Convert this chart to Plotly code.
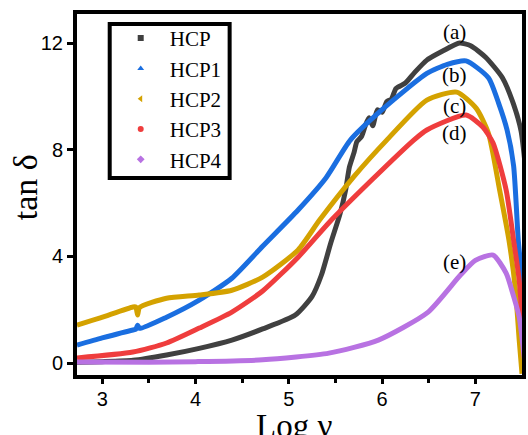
import plotly.graph_objects as go

# log10 of frequency (x) and tan delta (y) for each sample
hcp_x = [2.73, 3.0, 3.33, 3.69, 4.04, 4.39, 4.72, 5.07, 5.25, 5.35, 5.45, 5.55, 5.61, 5.65,
         5.70, 5.73, 5.78, 5.82, 5.86, 5.90, 5.95, 6.00, 6.05, 6.10, 6.15, 6.25, 6.35, 6.48,
         6.65, 6.83, 6.95, 7.11, 7.29, 7.41, 7.49, 7.56]
hcp_y = [0.03, 0.05, 0.10, 0.30, 0.55, 0.86, 1.28, 1.80, 2.50, 3.30, 4.50, 5.60, 6.50, 7.35,
         7.90, 8.30, 8.50, 8.90, 9.20, 8.90, 9.50, 9.40, 9.80, 9.90, 10.30, 10.50, 10.90, 11.36,
         11.70, 12.00, 11.90, 11.47, 10.70, 9.70, 8.70, 6.50]

hcp1_x = [2.73, 3.0, 3.33, 3.36, 3.38, 3.40, 3.69, 4.04, 4.39, 4.72, 5.10, 5.40, 5.66, 6.0,
          6.48, 6.70, 6.90, 7.14, 7.25, 7.34, 7.41, 7.46, 7.50, 7.53]
hcp1_y = [0.67, 0.94, 1.24, 1.26, 1.42, 1.30, 1.72, 2.36, 3.18, 4.38, 5.74, 6.95, 8.36, 9.50,
          10.86, 11.20, 11.33, 10.70, 9.74, 8.74, 7.40, 4.61, 3.10, 0.0]

hcp2_x = [2.73, 2.98, 3.33, 3.36, 3.38, 3.40, 3.69, 4.04, 4.39, 4.72, 5.10, 5.33, 5.70, 6.05,
          6.48, 6.80, 7.01, 7.14, 7.26, 7.36, 7.43, 7.47, 7.50]
hcp2_y = [1.42, 1.69, 2.10, 2.10, 1.80, 2.08, 2.43, 2.55, 2.73, 3.22, 4.24, 5.36, 7.00, 8.36,
          9.86, 10.16, 9.55, 8.62, 6.49, 4.61, 2.74, 0.86, -0.40]

hcp3_x = [2.73, 3.33, 3.69, 4.04, 4.39, 4.72, 5.10, 5.44, 5.90, 6.34, 6.48, 6.90, 7.08, 7.19,
          7.33, 7.41, 7.47, 7.53]
hcp3_y = [0.19, 0.41, 0.75, 1.31, 1.91, 2.70, 3.97, 5.30, 6.90, 8.36, 8.74, 9.30, 8.85, 8.25,
          6.49, 4.61, 3.10, 0.0]

hcp4_x = [2.73, 3.5, 4.0, 4.72, 5.43, 5.96, 6.49, 6.84, 7.00, 7.19, 7.33, 7.41, 7.47, 7.53]
hcp4_y = [0.04, 0.03, 0.05, 0.12, 0.37, 0.86, 1.90, 3.30, 3.85, 4.05, 3.37, 2.50, 1.72, 0.0]

names = ["HCP", "HCP1", "HCP2", "HCP3", "HCP4"]
colors = ["#404040", "#1a6ee0", "#d4a200", "#ef3d3d", "#b872e2"]
symbols = ["square", "triangle-up", "triangle-left", "circle", "diamond"]
series = [(hcp_x, hcp_y), (hcp1_x, hcp1_y), (hcp2_x, hcp2_y), (hcp3_x, hcp3_y), (hcp4_x, hcp4_y)]

curve_labels = ["(a)", "(b)", "(c)", "(d)", "(e)"]
label_x = [6.78, 6.78, 6.78, 6.78, 6.78]
label_y = [12.43, 10.79, 9.63, 8.61, 3.78]

fig = go.Figure()

for (xs, ys), c in zip(series, colors):
    fig.add_trace(go.Scatter(x=xs, y=ys, mode="lines", showlegend=False,
                             line=dict(color=c, width=5, shape="spline", smoothing=0.6)))

# legend entries show the sample marker symbols
for n, c, s in zip(names, colors, symbols):
    fig.add_trace(go.Scatter(x=[None], y=[None], mode="markers", name=n,
                             marker=dict(color=c, symbol=s, size=6)))

serif = "Liberation Serif, Times New Roman, serif"
sans = "Liberation Sans, Arial, sans-serif"

for t, x, y in zip(curve_labels, label_x, label_y):
    fig.add_annotation(x=x, y=y, text=t, showarrow=False,
                       font=dict(family=serif, size=21, color="black"))

fig.add_annotation(xref="paper", yref="paper", x=-0.114, y=0.521, text="tan δ",
                   xanchor="center", yanchor="middle", textangle=-90, showarrow=False,
                   font=dict(family=serif, size=34, color="black"))
fig.add_annotation(xref="paper", yref="paper", x=0.487, y=-0.142, text="Log ν",
                   xanchor="center", yanchor="middle", showarrow=False,
                   font=dict(family=serif, size=33, color="black"))

# thick frame around the legend
fig.add_shape(type="rect", xref="paper", yref="paper",
              x0=0.0735, x1=0.343, y0=0.5457, y1=0.9723,
              line=dict(color="black", width=4), fillcolor="rgba(0,0,0,0)")

fig.update_layout(
    width=528, height=435,
    margin=dict(l=77, r=2, t=14, b=60),
    paper_bgcolor="white", plot_bgcolor="white",
    legend=dict(x=0.078, y=0.989, xanchor="left", yanchor="top",
                borderwidth=0, bgcolor="rgba(0,0,0,0)",
                font=dict(family=serif, size=21, color="black"),
                itemsizing="trace", itemwidth=48, tracegroupgap=0),
)
fig.update_xaxes(range=[2.73, 7.50], showgrid=False, zeroline=False,
                 showline=True, linecolor="black", linewidth=4, mirror=True,
                 ticks="outside", ticklen=5, tickwidth=3, tickcolor="black",
                 ticklabelstandoff=-2,
                 tickvals=[3, 4, 5, 6, 7],
                 minor=dict(tickvals=[3.5, 4.5, 5.5, 6.5], ticks="outside", ticklen=4,
                            tickwidth=3, tickcolor="black"),
                 tickfont=dict(family=sans, size=20, color="black"))
fig.update_yaxes(range=[-0.45, 13.09], showgrid=False, zeroline=False,
                 showline=True, linecolor="black", linewidth=4, mirror=True,
                 ticks="outside", ticklen=6, tickwidth=3, tickcolor="black",
                 tickvals=[0, 4, 8, 12],
                 tickfont=dict(family=sans, size=20, color="black"))

fig.write_html("out.html")
